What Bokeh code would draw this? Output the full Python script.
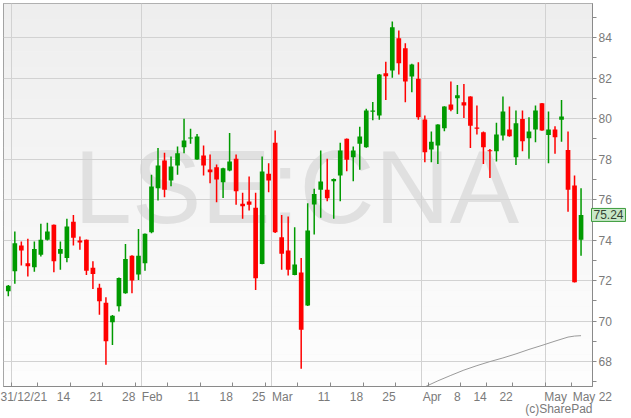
import datetime as dt
from bokeh.plotting import figure
from bokeh.models import (FixedTicker, Label, BoxAnnotation, ColumnDataSource, Range1d)
from bokeh.embed import file_html
from bokeh.resources import INLINE

# ---------------- data ----------------
dates = [
    "2021-12-31",
    "2022-01-04", "2022-01-05", "2022-01-06", "2022-01-07",
    "2022-01-10", "2022-01-11", "2022-01-12", "2022-01-13", "2022-01-14",
    "2022-01-17", "2022-01-18", "2022-01-19", "2022-01-20", "2022-01-21",
    "2022-01-24", "2022-01-25", "2022-01-26", "2022-01-27", "2022-01-28",
    "2022-01-31", "2022-02-01", "2022-02-02", "2022-02-03", "2022-02-04",
    "2022-02-07", "2022-02-08", "2022-02-09", "2022-02-10", "2022-02-11",
    "2022-02-14", "2022-02-15", "2022-02-16", "2022-02-17", "2022-02-18",
    "2022-02-21", "2022-02-22", "2022-02-23", "2022-02-24", "2022-02-25",
    "2022-02-28", "2022-03-01", "2022-03-02", "2022-03-03", "2022-03-04",
    "2022-03-07", "2022-03-08", "2022-03-09", "2022-03-10", "2022-03-11",
    "2022-03-14", "2022-03-15", "2022-03-16", "2022-03-17", "2022-03-18",
    "2022-03-21", "2022-03-22", "2022-03-23", "2022-03-24", "2022-03-25",
    "2022-03-28", "2022-03-29", "2022-03-30", "2022-03-31", "2022-04-01",
    "2022-04-04", "2022-04-05", "2022-04-06", "2022-04-07", "2022-04-08",
    "2022-04-11", "2022-04-12", "2022-04-13", "2022-04-14",
    "2022-04-19", "2022-04-20", "2022-04-21", "2022-04-22",
    "2022-04-25", "2022-04-26", "2022-04-27", "2022-04-28", "2022-04-29",
    "2022-05-03", "2022-05-04", "2022-05-05", "2022-05-06",
    "2022-05-09", "2022-05-10",
]

opens = [71.47, 72.46, 73.73, 72.85, 72.66, 73.27, 74.02, 74.75, 73.32, 73.12,
         74.91, 73.98, 74.01, 72.63, 71.64, 70.90, 69.94, 70.73, 71.37, 73.23,
         72.30, 72.85, 74.39, 76.56, 77.93, 76.94, 77.68, 78.58, 79.03, 77.98,
         78.17, 77.48, 77.60, 76.85, 77.43, 78.01, 75.79, 75.90, 75.60, 72.82,
         77.27, 78.80, 74.14, 73.48, 72.28, 72.40, 70.77, 75.75, 76.49, 76.48,
         76.90, 77.19, 79.00, 78.09, 78.75, 78.58, 80.34, 80.15, 82.24, 82.37,
         83.97, 83.47, 82.07, 81.96, 79.95, 78.47, 78.67, 79.52, 80.69, 81.00,
         80.80, 81.09, 79.56, 79.32, 78.44, 78.39, 79.16, 79.46, 78.09, 79.98,
         79.03, 79.46, 80.76, 79.19, 79.46, 79.94, 78.45, 76.69, 74.01]
highs = [71.78, 74.42, 73.93, 74.06, 73.93, 74.80, 74.86, 74.77, 73.93, 75.05,
         75.24, 74.17, 74.03, 72.95, 71.84, 71.18, 70.30, 72.15, 73.81, 73.25,
         74.55, 74.33, 77.23, 78.55, 78.31, 78.12, 78.62, 79.99, 79.49, 79.24,
         78.67, 78.22, 77.73, 77.57, 79.29, 78.22, 76.33, 77.14, 76.33, 78.12,
         77.79, 79.41, 75.24, 75.16, 74.63, 73.12, 75.82, 76.53, 78.42, 78.01,
         77.04, 78.80, 79.02, 78.62, 79.60, 80.48, 80.82, 82.20, 82.81, 84.79,
         84.35, 83.72, 82.70, 82.78, 80.15, 79.36, 79.72, 80.61, 81.83, 81.66,
         81.71, 81.10, 80.64, 79.36, 78.50, 79.79, 81.09, 80.59, 80.40, 80.40,
         80.06, 80.64, 80.77, 80.35, 79.62, 80.92, 79.36, 77.19, 76.56]
lows = [71.22, 71.84, 72.74, 72.20, 72.44, 73.19, 73.98, 72.41, 72.53, 72.90,
        73.73, 73.52, 72.28, 71.59, 70.31, 67.84, 68.82, 70.47, 71.35, 71.37,
        72.03, 72.49, 74.34, 75.95, 76.11, 76.66, 77.23, 78.29, 78.75, 77.96,
        77.19, 76.80, 75.87, 76.08, 77.40, 75.74, 75.05, 75.46, 71.54, 72.80,
        76.36, 74.35, 72.53, 72.25, 72.26, 67.65, 70.75, 74.27, 75.10, 75.92,
        75.05, 75.92, 77.40, 76.90, 77.47, 78.56, 79.92, 79.94, 80.92, 82.01,
        82.17, 80.80, 81.30, 79.94, 77.84, 77.84, 77.76, 79.37, 80.36, 80.23,
        80.03, 78.55, 79.21, 77.76, 77.07, 77.88, 78.91, 79.10, 77.71, 78.39,
        78.01, 78.83, 79.40, 77.79, 78.26, 78.85, 75.40, 71.90, 73.22]
closes = [71.75, 73.84, 73.48, 72.71, 73.56, 74.01, 74.42, 72.95, 73.56, 74.67,
          74.11, 73.88, 72.49, 72.33, 70.98, 69.00, 70.26, 72.13, 73.07, 72.00,
          73.23, 74.31, 76.64, 77.68, 76.48, 77.63, 78.29, 78.91, 79.07, 79.11,
          77.68, 77.35, 76.99, 77.55, 77.88, 76.41, 75.67, 75.74, 72.11, 77.38,
          76.94, 74.39, 73.32, 72.53, 72.79, 69.57, 74.47, 76.28, 76.89, 76.07,
          77.02, 78.42, 77.96, 78.42, 79.11, 80.40, 80.40, 82.17, 82.09, 84.51,
          82.73, 81.83, 82.67, 80.06, 78.34, 78.86, 79.70, 80.59, 80.44, 81.15,
          80.64, 79.65, 79.52, 78.58, 78.40, 79.21, 80.35, 79.13, 79.77, 78.88,
          79.36, 80.40, 79.41, 79.46, 79.08, 80.10, 76.48, 71.92, 75.24]

# long moving average (grey line, lower right)
ma_dates = ["2022-03-31", "2022-04-01", "2022-04-05", "2022-04-07", "2022-04-11",
            "2022-04-13", "2022-04-19", "2022-04-21", "2022-04-25", "2022-04-27",
            "2022-04-29", "2022-05-04", "2022-05-06", "2022-05-09", "2022-05-10"]
ma_values = [66.55, 66.75, 67.05, 67.32, 67.58, 67.80, 68.00, 68.18, 68.38, 68.60,
             68.80, 69.01, 69.21, 69.26, 69.28]

week_label_dates = ["2022-01-14", "2022-01-21", "2022-01-28", "2022-02-11",
                    "2022-02-18", "2022-02-25", "2022-03-11", "2022-03-18",
                    "2022-03-25", "2022-04-08", "2022-04-14", "2022-04-22"]
month_names = {2: "Feb", 3: "Mar", 4: "Apr", 5: "May"}
first_label = "31/12/21"
last_label = "May 22"
y_major = [68, 70, 72, 74, 76, 78, 80, 82, 84]
y_minor = [67, 69, 71, 73, 75, 77, 79, 81, 83, 85]
ticker_symbol = "LSE:CNA"
credit = "(c)SharePad"
last_price = closes[-1]

# ---------------- derived positions ----------------
d = [dt.date.fromisoformat(s) for s in dates]
idx = {s: i for i, s in enumerate(dates)}
xs = list(range(len(dates)))

week_bounds = [i - 0.5 for i in range(1, len(d))
               if d[i].isocalendar()[1] != d[i - 1].isocalendar()[1]]
month_bounds = [i - 0.5 for i in range(1, len(d)) if d[i].month != d[i - 1].month]

FW, FH = 589, 383               # frame size, px
LB = 3                          # left border, px
X0, X1 = -0.74, 89.76
Y0, Y1 = 66.77, 85.68
STEP = FW / (X1 - X0)           # px per trading day
CHW = 6.6                       # approx. label character width, px

xt_pos, xt_text = [], []
xt_pos.append(round(X0 + 19.5 / STEP, 3))
xt_text.append(first_label)
for s in week_label_dates:
    lab = str(dt.date.fromisoformat(s).day)
    xt_pos.append(round(idx[s] + 0.5 - (len(lab) * CHW / 2) / STEP, 3))
    xt_text.append(lab)
for b in month_bounds[1:]:
    lab = month_names[d[int(b + 0.5)].month]
    xt_pos.append(round(b + (len(lab) * CHW / 2 + 0.5) / STEP, 3))
    xt_text.append(lab)
xt_pos.append(round(X1 - 0.02, 3))
xt_text.append(last_label)

GREEN = "#009a00"
RED = "#ff0000"
colors = [GREEN if c >= o else RED for o, c in zip(opens, closes)]
src = ColumnDataSource(dict(
    x=xs, top=[max(o, c) for o, c in zip(opens, closes)],
    bottom=[min(o, c) if abs(c - o) > 0.05 else max(o, c) - 0.06 for o, c in zip(opens, closes)],
    high=highs, low=lows, color=colors))

p = figure(frame_width=FW, frame_height=FH,
           x_range=Range1d(X0, X1), y_range=Range1d(Y0, Y1),
           y_axis_location="right", output_backend="svg", toolbar_location=None,
           min_border_left=LB, min_border_top=0, min_border_right=38,
           min_border_bottom=31, background_fill_color="#f6f6f6",
           border_fill_color="white")
p.styles = {"margin-left": "0px", "margin-top": "3px"}
p.outline_line_color = "#8a8a8a"

# vertical gradient background (light grey at top to almost white at bottom)
nb = 24
for k in range(nb):
    t = k / (nb - 1)
    g = int(round(0xfd + (0xee - 0xfd) * t))
    col = "#%02x%02x%02x" % (g, g, g)
    p.add_layout(BoxAnnotation(bottom=Y0 + (Y1 - Y0) * k / nb,
                               top=Y0 + (Y1 - Y0) * (k + 1) / nb + 0.01,
                               fill_color=col, fill_alpha=1.0, line_alpha=0,
                               level="image"))

# watermark
p.add_layout(Label(x=44.3, y=76.62, text=ticker_symbol, text_align="center",
                   text_baseline="middle", text_font="Liberation Sans",
                   text_font_size="104px", text_color="#e0e0e0", level="image"))

# axes
font = "Liberation Sans"
p.xaxis.ticker = FixedTicker(ticks=xt_pos, minor_ticks=week_bounds)
p.xaxis.major_label_overrides = {k: v for k, v in zip(xt_pos, xt_text)}
p.xaxis.major_tick_in = 0
p.xaxis.major_tick_out = 0
p.xaxis.minor_tick_in = 4
p.xaxis.minor_tick_out = 0
p.xaxis.major_label_standoff = 3
p.yaxis.ticker = FixedTicker(ticks=y_major, minor_ticks=y_minor)
p.yaxis.major_tick_in = 0
p.yaxis.major_tick_out = 4
p.yaxis.minor_tick_in = 0
p.yaxis.minor_tick_out = 4
p.yaxis.major_label_standoff = 2
for ax in (p.xaxis, p.yaxis):
    ax.axis_line_color = "#8a8a8a"
    ax.major_tick_line_color = "#8a8a8a"
    ax.minor_tick_line_color = "#8a8a8a"
    ax.major_label_text_color = "#7a7a7a"
    ax.major_label_text_font = font
    ax.major_label_text_font_size = "12px"

p.xgrid.ticker = FixedTicker(ticks=month_bounds)
p.xgrid.grid_line_color = "#d2d2d2"
p.ygrid.grid_line_color = "#d2d2d2"

# moving average
p.line([idx[s] for s in ma_dates], ma_values, line_color="#9a9a9a", line_width=1)

# candles
p.segment(x0="x", y0="low", x1="x", y1="high", line_color="color", line_width=1.5, source=src)
p.vbar(x="x", top="top", bottom="bottom", width=0.72, fill_color="color",
       line_color=None, source=src)

# last price tag (placed in the right-hand panel so it is not clipped to the frame)
p.add_layout(Label(x=LB + FW - 1, y=last_price, x_units="canvas", y_units="data",
                   text="%.2f" % last_price, text_align="left", text_baseline="middle",
                   text_font=font, text_font_size="12px", text_color="#334433",
                   background_fill_color="#c8e8c8", border_line_color="#3c9c3c",
                   border_line_width=1, padding=2), "right")

# credit
p.add_layout(Label(x=LB + FW, y=FH + 22, x_units="canvas", y_units="canvas",
                   text=credit, text_align="right", text_baseline="middle",
                   text_font=font, text_font_size="12px", text_color="#7a7a7a"),
             "below")

open("out.html", "w").write(file_html(p, INLINE))
